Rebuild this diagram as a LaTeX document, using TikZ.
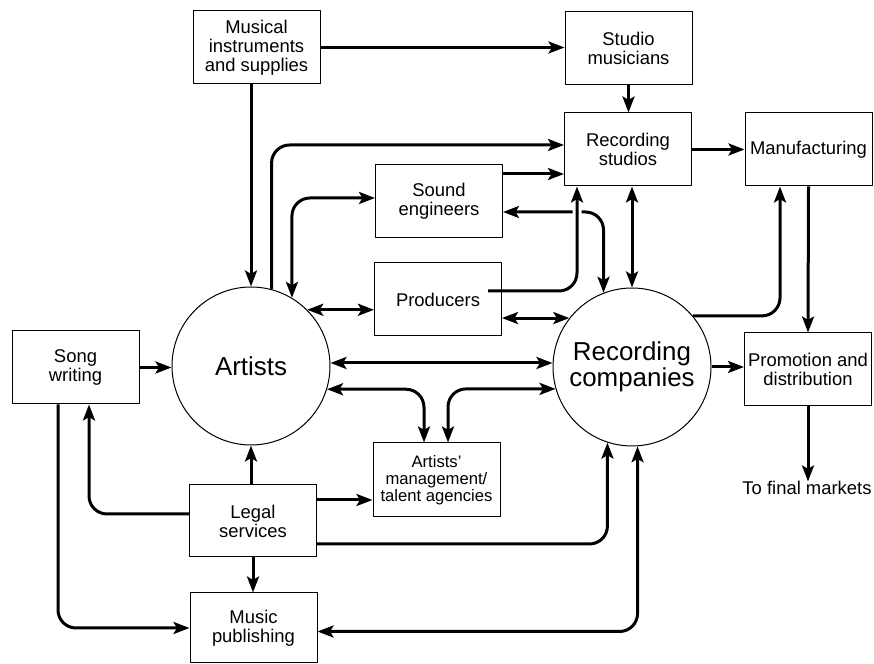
\documentclass[tikz,border=0pt]{standalone}
\usepackage{fontspec}
\setmainfont{Liberation Sans}
\usetikzlibrary{arrows.meta}

\begin{document}
\begin{tikzpicture}[>={Stealth[length=16bp,width=12bp,inset=3.5bp]},line join=round,
  box/.style={draw,line width=1bp,inner sep=0pt,minimum width=127bp,minimum height=73bp,align=center,font=\fontsize{18.5}{19}\selectfont},
  hub/.style={draw,circle,line width=1bp,inner sep=0pt,minimum size=158bp,align=center},
  link/.style={black,line width=3bp,rounded corners=18bp},
  halo/.style={preaction={draw=white,line width=9bp,arrows=-,shorten <=20bp,shorten >=18bp}}]
%%
\useasboundingbox (0bp,0bp) rectangle (874bp,664bp);
\node (node_instr) at (256.5bp,616.5bp) [box] {Musical\\instruments\\and supplies};
  \node (node_studio) at (628.5bp,615.5bp) [box] {Studio\\musicians};
  \node (node_recstudio) at (628.0bp,514.5bp) [box] {Recording\\studios};
  \node (node_manuf) at (808.5bp,514.5bp) [box] {Manufacturing};
  \node (node_promo) at (808.0bp,294.5bp) [box] {Promotion and\\distribution};
  \node (node_sound) at (439.0bp,463.0bp) [box] {Sound\\engineers};
  \node (node_prod) at (438.0bp,364.5bp) [box] {Producers};
  \node (node_song) at (75.5bp,296.5bp) [box] {Song\\writing};
  \node (node_artists) at (251.0bp,298.0bp) [hub,font=\fontsize{26}{27}\selectfont] {Artists};
  \node (node_reccomp) at (632.0bp,297.0bp) [hub,font=\fontsize{26}{26.5}\selectfont] {Recording\\companies};
  \node (node_mgmt) at (436.5bp,184.0bp) [box,minimum height=74bp,font=\fontsize{16.7}{17}\selectfont] {Artists'\\management/\\talent agencies};
  \node (node_legal) at (253.0bp,143.0bp) [box,minimum height=72bp] {Legal\\services};
  \node (node_publish) at (253.5bp,36.0bp) [box,minimum height=70bp] {Music\\publishing};
  \node (node_final) at (807.0bp,169.0bp) [anchor=base,inner sep=0pt,font=\fontsize{18.5}{19}\selectfont] {To final markets};
%
\draw [link,->] (node_instr.east) -- (node_instr.east -| node_studio.west);
  \draw [link,->] (node_artists.north |- node_instr.south) -- (node_artists.north);
  \draw [link,->] (node_studio.south) -- (node_studio.south |- node_recstudio.north);
  \draw [link,->] (node_artists.75) |- ([yshift=4.5bp]node_recstudio.west);
  \draw [link,->] ([yshift=27bp]node_sound.east) -- ([yshift=27bp]node_sound.east -| node_recstudio.west);
  \draw [link,<->] ([yshift=3bp]node_sound.west) -| (node_artists.59);
  \draw [link,<->] (node_artists.45) -- (node_artists.45 -| node_prod.west);
  \draw [link,<->] ([yshift=-11bp]node_sound.east) -| (node_reccomp.111);
  \draw [link,halo,->] ([xshift=-14bp,yshift=8.5bp]node_prod.east) -| ([xshift=-51bp]node_recstudio.south);
  \draw [link,<->] (node_reccomp.north |- node_recstudio.south) -- (node_reccomp.north);
  \draw [link,<->] (node_reccomp.142 -| node_prod.east) -- (node_reccomp.142);
  \draw [link,->] (node_recstudio.east) -- (node_manuf.west);
  \draw [link,->] (node_reccomp.40) -| ([xshift=-28.5bp]node_manuf.south);
  \draw [link,->] (node_manuf.south) -- (node_promo.north);
  \draw [link,->] (node_reccomp.east) -- (node_reccomp.east -| node_promo.west);
  \draw [link,->] (node_promo.south) -- (node_promo.south |- node_final.north);
  \draw [link,->] (node_song.east) -- (node_song.east -| node_artists.west);
  \draw [link,<->] ([yshift=3bp]node_artists.east) -- ([yshift=3bp]node_artists.east -| node_reccomp.west);
  \draw [link,<->] (node_artists.-17) -| ([xshift=-12.5bp]node_mgmt.north);
  \draw [link,<->] (node_reccomp.196) -| ([xshift=11.5bp]node_mgmt.north);
  \draw [link,->] (node_artists.south |- node_legal.north) -- (node_artists.south);
  \draw [link,->] ([yshift=7bp]node_legal.west) -| ([xshift=13.5bp]node_song.south);
  \draw [link,->] ([yshift=21bp]node_legal.east) -- ([yshift=21bp]node_legal.east -| node_mgmt.west);
  \draw [link,->] ([yshift=-23bp]node_legal.east) -| (node_reccomp.252);
  \draw [link,->] (node_legal.south) -- (node_legal.south |- node_publish.north);
  \draw [link,->] ([xshift=-17.5bp]node_song.south) |- (node_publish.west);
  \draw [link,<->] ([yshift=-3.5bp]node_publish.east) -| (node_reccomp.274);
%
\end{tikzpicture}
\end{document}
